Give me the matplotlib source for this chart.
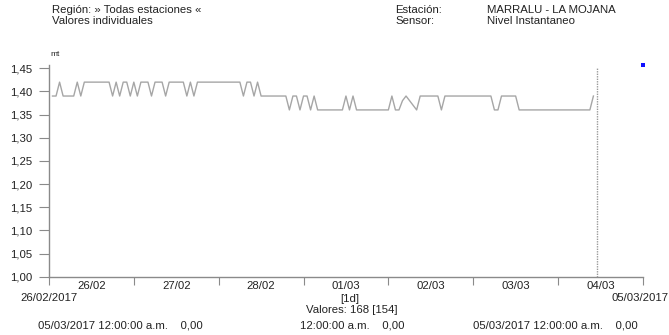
import numpy as np
import matplotlib
matplotlib.use('Agg')
import matplotlib.pyplot as plt
import pandas as pd

plt.rcParams['font.family'] = ['Liberation Sans', 'DejaVu Sans']

#************ data ******************
start = '2017-02-26 01:00'
# hourly level readings (mt), 154 valid values
nivel = [1.39, 1.39, 1.42, 1.39, 1.39, 1.39, 1.39, 1.42, 1.39, 1.42,
         1.42, 1.42, 1.42, 1.42, 1.42, 1.42, 1.42, 1.39, 1.42, 1.39,
         1.42, 1.42, 1.39, 1.42, 1.39, 1.42, 1.42, 1.42, 1.39, 1.42,
         1.42, 1.42, 1.39, 1.42, 1.42, 1.42, 1.42, 1.42, 1.39, 1.42,
         1.39, 1.42, 1.42, 1.42, 1.42, 1.42, 1.42, 1.42, 1.42, 1.42,
         1.42, 1.42, 1.42, 1.42, 1.39, 1.42, 1.42, 1.39, 1.42, 1.39,
         1.39, 1.39, 1.39, 1.39, 1.39, 1.39, 1.39, 1.36, 1.39, 1.39,
         1.36, 1.39, 1.39, 1.36, 1.39, 1.36, 1.36, 1.36, 1.36, 1.36,
         1.36, 1.36, 1.36, 1.39, 1.36, 1.39, 1.36, 1.36, 1.36, 1.36,
         1.36, 1.36, 1.36, 1.36, 1.36, 1.36, 1.39, 1.36, 1.36, 1.38,
         1.39, 1.38, 1.37, 1.36, 1.39, 1.39, 1.39, 1.39, 1.39, 1.39,
         1.36, 1.39, 1.39, 1.39, 1.39, 1.39, 1.39, 1.39, 1.39, 1.39,
         1.39, 1.39, 1.39, 1.39, 1.39, 1.36, 1.36, 1.39, 1.39, 1.39,
         1.39, 1.39, 1.36, 1.36, 1.36, 1.36, 1.36, 1.36, 1.36, 1.36,
         1.36, 1.36, 1.36, 1.36, 1.36, 1.36, 1.36, 1.36, 1.36, 1.36,
         1.36, 1.36, 1.36, 1.39]
tiempo = pd.date_range(start, periods=len(nivel), freq='h')

cursor_time = pd.Timestamp('2017-03-04 11:00')   # dotted cursor line
cursor_top = 1.452
extra_time = pd.Timestamp('2017-03-05 00:00')    # blue point
extra_val = 1.456

t0 = pd.Timestamp('2017-02-26 00:00')
t1 = pd.Timestamp('2017-03-05 00:00')
day_labels = ['26/02', '27/02', '28/02', '01/03', '02/03', '03/03', '04/03']
y_ticks = [1.00, 1.05, 1.10, 1.15, 1.20, 1.25, 1.30, 1.35, 1.40, 1.45]
#************************************

fs = 8.2
txt = '#222222'
axcol = '#8a8a8a'

fig = plt.figure(figsize=(6.69, 3.35), dpi=100)
ax = fig.add_axes([0.0732, 0.174, 0.8878, 0.632])

ax.plot(tiempo, nivel, color='#a6a6a6', lw=1.0)
ax.vlines(cursor_time, 1.0, cursor_top, colors='#9a9a9a', linestyles=(0, (1, 0.8)), lw=1.0)
ax.plot([extra_time], [extra_val], 's', color='#1010ff', ms=2.6, mew=0, clip_on=False)

ax.set_xlim(t0, t1)
ax.set_ylim(1.0, 1.457)

ax.set_yticks(y_ticks)
ax.set_yticklabels([('%.2f' % v).replace('.', ',') for v in y_ticks])

days = pd.date_range(t0, t1, freq='D')
ax.set_xticks(days)
ax.set_xticklabels([''] * len(days))
mids = days[:-1] + pd.Timedelta(hours=12)
ax.set_xticks(mids, minor=True)
ax.set_xticklabels(day_labels, minor=True)
ax.tick_params(axis='x', which='minor', length=0, pad=3, labelsize=fs, labelcolor=txt)
ax.tick_params(axis='x', which='major', length=6, color=axcol)
ax.tick_params(axis='y', length=7, color=axcol, labelsize=fs, labelcolor=txt, pad=5)

for s in ['top', 'right']:
    ax.spines[s].set_visible(False)
for s in ['left', 'bottom']:
    ax.spines[s].set_color(axcol)
    ax.spines[s].set_linewidth(1.0)

# header texts
W, H = 669., 335.
def ftext(x, y, s, **kw):
    fig.text(x / W, 1 - y / H, s, fontsize=kw.pop('fontsize', fs), color=txt, va='center', **kw)

ftext(52, 10, 'Región: » Todas estaciones «')
ftext(52, 21, 'Valores individuales')
ftext(395, 10, 'Estación:')
ftext(395, 21, 'Sensor:')
ftext(487, 10, 'MARRALU - LA MOJANA')
ftext(487, 21, 'Nivel Instantaneo')
ftext(50, 55, 'mt', fontsize=6)

# footer texts
ftext(20, 298, '26/02/2017')
ftext(612, 298, '05/03/2017')
ftext(350, 299, '[1d]', ha='center')
ftext(352, 310, 'Valores: 168 [154]', ha='center')
ftext(38, 325, '05/03/2017 12:00:00 a.m.    0,00')
ftext(300, 325, '12:00:00 a.m.    0,00')
ftext(473, 325, '05/03/2017 12:00:00 a.m.    0,00')

fig.savefig('out.png', dpi=100)
